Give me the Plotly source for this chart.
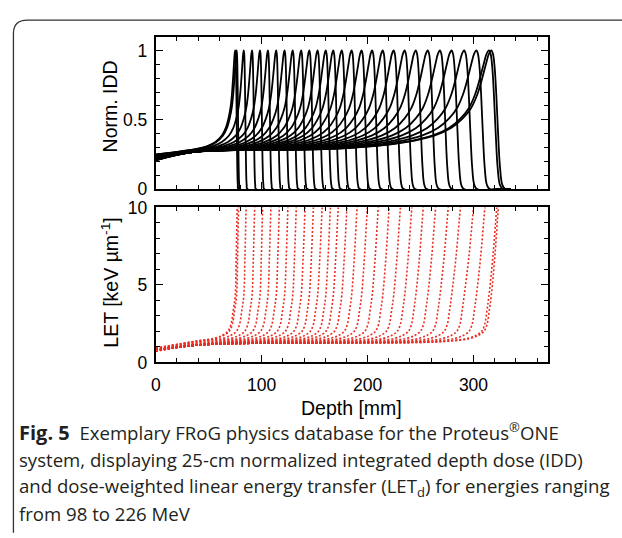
import plotly.graph_objects as go

# ---------------- data ----------------
# depth of each Bragg peak (mm), one entry per beam energy (98 ... 226 MeV)
idd_peak_depth_mm = [75.0, 76.3, 83.1, 90.9, 98.4, 105.9, 113.7, 121.6, 129.3, 137.3,
                     145.0, 152.8, 160.5, 167.6, 175.6, 184.9, 194.3, 204.3, 214.3, 224.6,
                     235.0, 245.5, 256.8, 268.3, 279.3, 291.2, 302.7, 314.6, 316.8]
# depth (mm) where each LET_d curve leaves the top of the panel (10 keV/um)
let_top_depth_mm = [76.9, 78.2, 85.3, 93.4, 100.9, 108.7, 116.7, 124.8, 132.7, 141.0,
                    148.9, 157.1, 164.9, 172.3, 180.5, 190.1, 199.8, 210.1, 220.4, 231.0,
                    241.8, 252.6, 264.3, 276.2, 287.7, 300.1, 310.8, 322.0, 323.5]
# normalized IDD at the entrance (depth 0)
idd_entrance = [0.250, 0.249, 0.247, 0.245, 0.243, 0.241, 0.239, 0.237, 0.235, 0.233,
                0.231, 0.229, 0.227, 0.226, 0.224, 0.223, 0.221, 0.220, 0.218, 0.217,
                0.216, 0.214, 0.213, 0.212, 0.211, 0.210, 0.209, 0.208, 0.207]
# LET_d at the entrance (keV/um)
let_entrance = [0.92, 0.91, 0.90, 0.89, 0.88, 0.87, 0.86, 0.85, 0.84, 0.83,
                0.82, 0.81, 0.80, 0.79, 0.785, 0.78, 0.775, 0.77, 0.765, 0.76,
                0.755, 0.75, 0.745, 0.74, 0.735, 0.73, 0.725, 0.72, 0.715]

# common build-up point of the IDD bundle (depth mm, value)
idd_bundle = (38.0, 0.27)
# IDD read along fractional residual range u = (R - depth) / R
idd_u = [0.50, 0.35, 0.25, 0.17, 0.12, 0.085, 0.06, 0.042, 0.028, 0.016, 0.007, 0.0,
         -0.005, -0.010, -0.015, -0.020, -0.026, -0.033, -0.042]
idd_val = [0.288, 0.31, 0.34, 0.385, 0.44, 0.51, 0.585, 0.68, 0.79, 0.90, 0.975, 1.0,
           0.975, 0.88, 0.68, 0.42, 0.16, 0.03, 0.0]
idd_tail_depth = 335.0

# LET_d plateau point of the bundle (depth mm, value)
let_bundle = (40.0, 1.12)
# LET_d read along residual range r = R - depth (mm)
let_r = [60, 35, 20, 12, 7, 4, 2]
let_val_r = [1.30, 1.40, 1.55, 1.75, 2.00, 2.45, 3.30]
# steep rise: fraction of the way from the peak depth to the top-exit depth
let_f = [0.0, 0.5, 1.0, 1.2]
let_val_f = [4.3, 6.8, 10.0, 11.0]

x_ticks = [0, 100, 200, 300]

# ---------------- build the curves ----------------
fig = go.Figure()

for R, e in zip(idd_peak_depth_mm, idd_entrance):
    xs, ys = [0.0], [e]
    if 0.5 * R > idd_bundle[0] + 8:
        xs.append(idd_bundle[0]); ys.append(idd_bundle[1])
    for u, v in zip(idd_u, idd_val):
        xs.append(R * (1 - u)); ys.append(v)
    xs.append(idd_tail_depth); ys.append(0.0)
    fig.add_trace(go.Scatter(x=xs, y=ys, mode="lines", xaxis="x", yaxis="y",
                             line=dict(color="black", width=1.8, shape="spline", smoothing=1.0),
                             hoverinfo="skip", showlegend=False))

for R, T, e in zip(idd_peak_depth_mm, let_top_depth_mm, let_entrance):
    xs, ys = [0.0], [e]
    use_bundle = R > 105
    if use_bundle:
        xs.append(let_bundle[0]); ys.append(let_bundle[1])
    for r, v in zip(let_r, let_val_r):
        d = R - r
        if r <= 0.5 * R and (not use_bundle or d >= let_bundle[0] + 8):
            xs.append(d); ys.append(v)
    for f, v in zip(let_f, let_val_f):
        xs.append(R + f * (T - R)); ys.append(v)
    fig.add_trace(go.Scatter(x=xs, y=ys, mode="lines", xaxis="x2", yaxis="y2",
                             line=dict(color="rgb(234,45,34)", width=1.6, dash="2px,2px",
                                       shape="spline", smoothing=1.0),
                             hoverinfo="skip", showlegend=False))

# ---------------- layout ----------------
W, H = 622, 538
def px_x(p): return p / W
def px_y(p): return 1 - p / H

FONT = "Liberation Sans, Arial, sans-serif"
axis_common = dict(showline=True, linewidth=2, linecolor="black", mirror="allticks",
                   ticks="inside", ticklen=7, tickwidth=1.3, tickcolor="black",
                   showgrid=False, zeroline=False,
                   tickfont=dict(family=FONT, size=17.5, color="black"))

xdom = [px_x(152), px_x(547)]
fig.update_layout(
    width=W, height=H, margin=dict(l=0, r=0, t=0, b=0),
    paper_bgcolor="white", plot_bgcolor="white",
    xaxis=dict(domain=xdom, anchor="y", range=[0, 370], tickvals=x_ticks,
               showticklabels=False,
               minor=dict(ticks="inside", ticklen=4, tickwidth=1.2, dtick=20, tick0=0,
                          tickcolor="black"),
               **axis_common),
    yaxis=dict(domain=[px_y(186), px_y(28)], anchor="x", range=[0, 1.097],
               tickvals=[0, 0.5, 1], ticktext=["0", "0.5", "1"], ticklabelstandoff=3,
               minor=dict(ticks="inside", ticklen=4, tickwidth=1.2, dtick=0.1, tick0=0,
                          tickcolor="black"),
               **axis_common),
    xaxis2=dict(domain=xdom, anchor="y2", range=[0, 370], tickvals=x_ticks,
                ticklabelstandoff=6,
                minor=dict(ticks="inside", ticklen=4, tickwidth=1.2, dtick=20, tick0=0,
                           tickcolor="black"),
                **axis_common),
    yaxis2=dict(domain=[px_y(366), px_y(205)], anchor="x2", range=[0, 10],
                tickvals=[0, 5, 10], ticklabelstandoff=3,
                minor=dict(ticks="inside", ticklen=4, tickwidth=1.2, dtick=1, tick0=0,
                           tickcolor="black"),
                **axis_common),
)

ann = []
ann.append(dict(text="Norm. IDD", x=px_x(106), y=px_y(100), xref="paper", yref="paper",
                xanchor="center", yanchor="middle",
                showarrow=False, textangle=-90, font=dict(family=FONT, size=19.5, color="black")))
ann.append(dict(text="LET [keV µm<sup>-1</sup>]", x=px_x(106), y=px_y(283), xref="paper", yref="paper",
                xanchor="center", yanchor="middle",
                showarrow=False, textangle=-90, font=dict(family=FONT, size=19.5, color="black")))
ann.append(dict(text="Depth [mm]", x=px_x(349.5), y=px_y(413), xref="paper", yref="paper",
                xanchor="center", yanchor="middle",
                showarrow=False, font=dict(family=FONT, size=19.5, color="black")))

CAP = "Open Sans, sans-serif"
cap_lines = [
    "<b style='font-size:20px'>Fig. 5</b>\u00a0\u00a0Exemplary FRoG physics database for the Proteus<sup>®</sup>ONE",
    "system, displaying 25-cm normalized integrated depth dose (IDD)",
    "and dose-weighted linear energy transfer (LET<sub>d</sub>) for energies ranging",
    "from 98 to 226 MeV",
]
cap_y = [438, 467, 495, 523]
for t, y in zip(cap_lines, cap_y):
    ann.append(dict(text=t, x=px_x(12), y=px_y(y), xref="paper", yref="paper",
                    xanchor="left", yanchor="middle", showarrow=False,
                    font=dict(family=CAP, size=18.6, color="#231f20")))
fig.update_layout(annotations=ann)

# rounded frame of the figure box (top-left corner)
x0, y0, rad = 8.5, 10.5, 14
path = (f"M {px_x(x0)},{px_y(H + 5)} L {px_x(x0)},{px_y(y0 + rad)} "
        f"Q {px_x(x0)},{px_y(y0)} {px_x(x0 + rad)},{px_y(y0)} L {px_x(W + 5)},{px_y(y0)}")
fig.add_shape(type="path", path=path, xref="paper", yref="paper",
              line=dict(color="#333333", width=1.3))

fig.write_html("out.html")
